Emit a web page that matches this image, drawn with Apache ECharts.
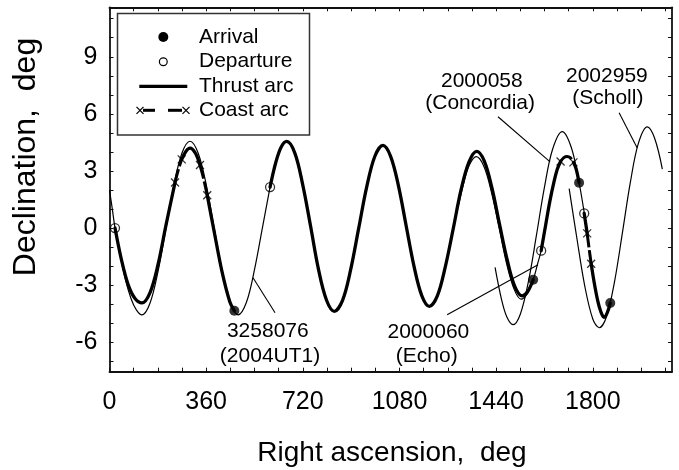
<!DOCTYPE html>
<html>
<head>
<meta charset="utf-8">
<script src="https://cdn.jsdelivr.net/npm/echarts@6/dist/echarts.min.js"></script>
<style>html,body{margin:0;padding:0;background:#fff;}#c{width:679px;height:470px;}</style>
</head>
<body>
<div id="c"></div>
<script>
// ---------- data (right ascension deg, declination deg) ----------
const xTickLabels = [0, 360, 720, 1080, 1440, 1800];
const xMinorTicks = [0, 90, 180, 270, 360, 450, 540, 630, 720, 810, 900, 990, 1080, 1170, 1260, 1350, 1440, 1530, 1620, 1710, 1800, 1890, 1980, 2070];
const yTickLabels = [-6, -3, 0, 3, 6, 9];
const yMinorTicks = [-7, -6, -5, -4, -3, -2, -1, 0, 1, 2, 3, 4, 5, 6, 7, 8, 9, 10, 11];

// asteroid orbits (thin lines)
const orbit2004UT1 = [[0,2.0],[10,1.05],[20.5,0.0],[40,-1.45],[60,-2.75],[80,-3.7],[100,-4.3],[121,-4.56],[150,-3.98],[180,-2.33],[210,-0.04],[240,2.26],[270,3.94],[300,4.56],[330,3.94],[360,2.3],[390,0.0],[420,-2.3],[450,-3.94],[479,-4.56],[510,-3.9],[540,-2.19],[570,0.05],[598,2.15]];
const orbitEcho = [[1300,1.2],[1320,2.4],[1340,3.3],[1366,3.75],[1395,3.22],[1424,1.8],[1452,-0.05],[1480,-1.92],[1508,-3.25],[1533,-3.74],[1556,-3.45],[1578,-2.72],[1595,-1.85],[1607.7,-1.19],[1628,0.3]];
const orbitConcordia = [[1436,-2.07],[1460,-3.75],[1480,-4.68],[1503,-5.08],[1530,-4.53],[1560,-2.83],[1590,-0.39],[1620,2.15],[1650,4.13],[1686,5.07],[1720,4.23],[1749,2.38],[1768,0.82],[1776,0.1]];
const orbitScholl = [[1712,2.07],[1740,-0.47],[1770,-3.04],[1800,-4.78],[1824,-5.24],[1850,-4.7],[1880,-2.89],[1910,-0.28],[1940,2.41],[1970,4.46],[2003,5.32],[2030,4.73],[2059,3.1]];

// spacecraft trajectory: thrust arcs (thick) and coast arcs (dashed)
const thrust1a = [[20.5,0],[45,-1.7],[70,-3.0],[95,-3.7],[121,-3.93],[151,-3.39],[181,-1.9],[210,0.13],[244,2.39]];
const coast1a = [[244,2.39],[256,3.05],[269,3.61]];
const thrust1b = [[269,3.61],[285,4.04],[300,4.2],[320,3.93],[337,3.31]];
const coast1b = [[337,3.31],[350,2.62],[364,1.72]];
const thrust1c = [[364,1.72],[389,-0.13],[419,-2.29],[448,-3.87],[465,-4.35]];
const thrust2 = [[598,2.15],[620,3.48],[640,4.27],[660,4.55],[690,3.95],[719,2.32],[749,0.09],[778,-2.15],[808,-3.78],[837.5,-4.38],[868,-3.8],[898,-2.2],[928,-0.02],[958,2.16],[988,3.76],[1018,4.34],[1047,3.77],[1076,2.23],[1105,0.11],[1134,-2.0],[1163,-3.55],[1191.5,-4.12],[1221,-3.57],[1250,-2.08],[1280,-0.05],[1309,1.99],[1339,3.48],[1368,4.03],[1396,3.52],[1424,2.13],[1452,0.24],[1481,-1.66],[1509,-3.05],[1537,-3.56],[1557,-3.35],[1578,-2.72]];
const thrust3a = [[1607.7,-1.19],[1625,0.2],[1640,1.4],[1655,2.4],[1668,3.1],[1680,3.5]];
const coast3 = [[1680,3.5],[1692,3.7],[1704,3.76],[1716,3.7],[1728,3.45]];
const thrust3b = [[1728,3.45],[1738,3.1],[1749,2.38]];
const thrust4a = [[1768,0.77],[1779,-0.28]];
const coast4 = [[1779,-0.28],[1786,-1.05],[1794,-1.88]];
const thrust4b = [[1794,-1.88],[1805,-2.85],[1818,-3.8],[1830,-4.4],[1842,-4.69],[1854,-4.45],[1865,-3.94]];

const arrivals = [[465,-4.35],[1578,-2.72],[1749,2.38],[1865,-3.94]];
const departures = [[20.5,0],[598,2.15],[1607.7,-1.19],[1768,0.77]];
const coastEnds = [[244,2.39],[269,3.61],[337,3.31],[364,1.72],[1680,3.5],[1728,3.45],[1779,-0.28],[1794,-1.88]];

const labelNames = ['3258076', '(2004UT1)', '2000060', '(Echo)', '2000058', '(Concordia)', '2002959', '(Scholl)'];

// ---------- layout / styling ----------
const FONT = "'Liberation Sans', Arial, Helvetica, sans-serif";
const INK = '#000';
const FRAME = '#111';

const labelAnchors = [[589.6,-5.43],[598,-6.75],[1187.7,-5.48],[1181.7,-6.71],[1386.7,7.7],[1380.4,6.57],[1852.4,7.97],[1856,6.83]];
const leaders = [
  [[616.6,-4.45],[534.6,-2.61]],
  [[1257.5,-4.56],[1596,-1.93]],
  [[1447,5.85],[1641,3.48]],
  [[1898,6.06],[1965,4.22]]
];

function thinLine(name, data) {
  return {name, type:'line', data, smooth:0.35, symbol:'none', silent:true, z:2,
    lineStyle:{color:INK, width:1.2}};
}
function thrustLine(data) {
  return {name:'Thrust arc', type:'line', data, smooth:0.35, symbol:'none', silent:true, z:3,
    lineStyle:{color:INK, width:3.3, cap:'round'}};
}
function coastLine(data) {
  return {name:'Coast arc', type:'line', data, smooth:0.35, symbol:'none', silent:true, z:3,
    lineStyle:{color:INK, width:3, type:[14,3]}};
}

const tickStyle = {color:FRAME, width:1};
const lineStyleFrame = {color:FRAME, width:1.8};

function xAx(pos, showLabel) {
  return {type:'value', position:pos, min:0, max:2095,
    splitLine:{show:false},
    axisLine:{show:true, onZero:false, lineStyle:lineStyleFrame},
    axisTick:{show:true, inside:true, length:4, customValues:xMinorTicks, lineStyle:tickStyle},
    axisLabel:{show:showLabel, customValues:xTickLabels, formatter:function (v) { return String(v); },
      fontSize:25, color:INK, fontFamily:FONT, margin:18}};
}
function yAx(pos, showLabel) {
  return {type:'value', position:pos, min:-7.55, max:11.6,
    splitLine:{show:false},
    axisLine:{show:true, onZero:false, lineStyle:lineStyleFrame},
    axisTick:{show:true, inside:true, length:4, customValues:yMinorTicks, lineStyle:tickStyle},
    axisLabel:{show:showLabel, customValues:yTickLabels, formatter:function (v) { return String(v); },
      fontSize:25, color:INK, fontFamily:FONT, margin:12}};
}

const option = {
  animation:false,
  backgroundColor:'#fff',
  grid:{left:109.5, top:7.3, right:7, bottom:98.3, containLabel:false, outerBoundsMode:'none'},
  xAxis:[xAx('bottom', true), xAx('top', false)],
  yAxis:[yAx('left', true), yAx('right', false)],
  series:[
    thinLine('3258076 (2004UT1)', orbit2004UT1),
    thinLine('2000060 (Echo)', orbitEcho),
    thinLine('2000058 (Concordia)', orbitConcordia),
    thinLine('2002959 (Scholl)', orbitScholl),
    thrustLine(thrust1a), coastLine(coast1a), thrustLine(thrust1b), coastLine(coast1b), thrustLine(thrust1c),
    thrustLine(thrust2),
    thrustLine(thrust3a), coastLine(coast3), thrustLine(thrust3b),
    thrustLine(thrust4a), coastLine(coast4), thrustLine(thrust4b),
    {name:'Coast arc ends', type:'scatter', data:coastEnds, symbol:'path://M0,0L10,10M10,0L0,10', symbolSize:8, z:5, silent:true,
      itemStyle:{color:'rgba(0,0,0,0)', borderColor:INK, borderWidth:1.3}},
    {name:'Departure', type:'scatter', data:departures, symbol:'circle', symbolSize:9, z:6, silent:true,
      itemStyle:{color:'rgba(255,255,255,0)', borderColor:INK, borderWidth:1.3}},
    {name:'Arrival', type:'scatter', data:arrivals, symbol:'circle', symbolSize:10, z:6, silent:true,
      itemStyle:{color:INK}}
  ]
};

const chart = echarts.init(document.getElementById('c'), null, {renderer:'canvas'});
chart.setOption(option);

function px(p) { return chart.convertToPixel({xAxisIndex:0, yAxisIndex:0}, p); }

const graphics = [];
// leader lines
leaders.forEach(function (l) {
  const a = px(l[0]), b = px(l[1]);
  graphics.push({type:'line', silent:true, z:10, shape:{x1:a[0], y1:a[1], x2:b[0], y2:b[1]}, style:{stroke:INK, lineWidth:1.1}});
});
// annotation labels
labelNames.forEach(function (t, i) {
  const p = px(labelAnchors[i]);
  graphics.push({type:'text', silent:true, z:10, x:p[0], y:p[1],
    style:{text:t, font:'21px ' + FONT, fill:INK, align:'center', verticalAlign:'middle'}});
});
// axis titles
graphics.push({type:'text', silent:true, z:10, x:392, y:453,
  style:{text:'Right ascension,  deg', font:'28px ' + FONT, fill:INK, align:'center', verticalAlign:'middle'}});
graphics.push({type:'text', silent:true, z:10, x:26, y:157, rotation:Math.PI/2,
  style:{text:'Declination,  deg', font:'32px ' + FONT, fill:INK, align:'center', verticalAlign:'middle'}});
// legend box
const LX = 199, rows = [37, 61.7, 86.4, 110.3];
graphics.push({type:'rect', silent:true, z:20, shape:{x:117.5, y:13.5, width:192, height:121.5}, style:{fill:'#fff', stroke:'#333', lineWidth:1.5}});
graphics.push({type:'circle', silent:true, z:21, shape:{cx:163.3, cy:rows[0], r:5}, style:{fill:INK}});
graphics.push({type:'circle', silent:true, z:21, shape:{cx:163.3, cy:rows[1], r:3.9}, style:{fill:'none', stroke:INK, lineWidth:1.2}});
graphics.push({type:'line', silent:true, z:21, shape:{x1:139.3, y1:rows[2], x2:187.3, y2:rows[2]}, style:{stroke:INK, lineWidth:3.3}});
[[143,155],[168,182]].forEach(function (d) {
  graphics.push({type:'line', silent:true, z:21, shape:{x1:d[0], y1:rows[3], x2:d[1], y2:rows[3]}, style:{stroke:INK, lineWidth:3}});
});
[140, 186].forEach(function (cx) {
  graphics.push({type:'line', silent:true, z:21, shape:{x1:cx-3.5, y1:rows[3]-3.5, x2:cx+3.5, y2:rows[3]+3.5}, style:{stroke:INK, lineWidth:1.2}});
  graphics.push({type:'line', silent:true, z:21, shape:{x1:cx+3.5, y1:rows[3]-3.5, x2:cx-3.5, y2:rows[3]+3.5}, style:{stroke:INK, lineWidth:1.2}});
});
['Arrival', 'Departure', 'Thrust arc', 'Coast arc'].forEach(function (t, i) {
  graphics.push({type:'text', silent:true, z:21, x:LX, y:rows[i],
    style:{text:t, font:'21px ' + FONT, fill:INK, align:'left', verticalAlign:'middle'}});
});

chart.setOption({graphic:graphics});
</script>
</body>
</html>
